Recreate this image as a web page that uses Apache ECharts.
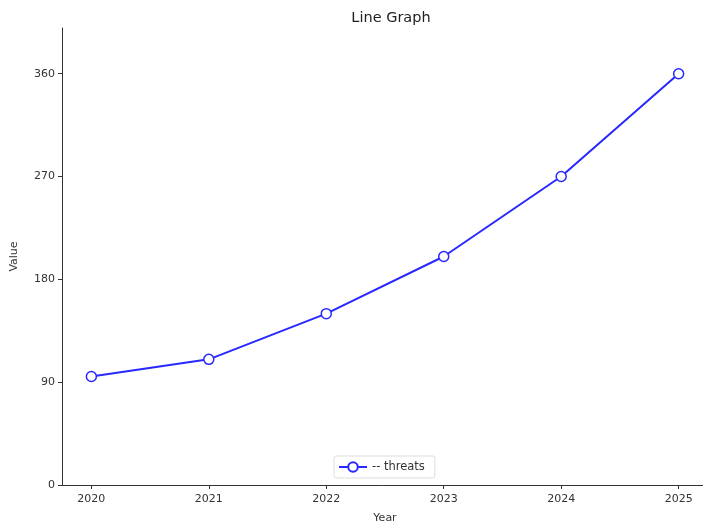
<!DOCTYPE html>
<html><head><meta charset="utf-8">
<script src="https://cdn.jsdelivr.net/npm/echarts@6/dist/echarts.min.js"></script>
<style>html,body{margin:0;padding:0;background:#fff}#c{width:703px;height:523px}</style>
</head><body><div id="c"></div>
<script>
const years = [2020, 2021, 2022, 2023, 2024, 2025];
const threats = [95, 110, 150, 200, 270, 360];
const yTicks = [0, 90, 180, 270, 360];

const chart = echarts.init(document.getElementById('c'), null, {renderer: 'canvas'});
const font = 'DejaVu Sans';
chart.setOption({
  animation: false,
  backgroundColor: '#fff',
  title: {text: 'Line Graph', left: 386, top: 6, textAlign: 'center',
    textStyle: {fontFamily: font, fontSize: 14.5, fontWeight: 'normal', color: '#222'}},
  grid: {left: 62, top: 28, width: 646, height: 457, containLabel: false, outerBoundsMode: 'none'},
  legend: {
    data: ['-- threats'], left: 334, top: 456,
    borderColor: '#ddd', borderWidth: 1, borderRadius: 2, padding: [5, 10, 5, 4],
    itemWidth: 28, itemHeight: 12, itemGap: 6,
    textStyle: {fontFamily: font, fontSize: 11.5, color: '#333'}
  },
  xAxis: {
    type: 'value', min: 2019.75, max: 2025.25,
    name: 'Year', nameLocation: 'middle', nameGap: 28,
    nameTextStyle: {fontFamily: font, fontSize: 11, color: '#333'},
    axisLine: {lineStyle: {color: '#333', width: 1}},
    axisTick: {show: true, length: 4, customValues: years, lineStyle: {color: '#333'}},
    axisLabel: {customValues: years, fontFamily: font, fontSize: 11, color: '#333', margin: 9,
      formatter: v => String(v)},
    splitLine: {show: false}
  },
  yAxis: {
    type: 'value', min: 0, max: 400,
    name: 'Value', nameLocation: 'middle', nameGap: 42, nameRotate: 90,
    nameTextStyle: {fontFamily: font, fontSize: 11, color: '#333'},
    axisLine: {show: true, lineStyle: {color: '#333', width: 1}},
    axisTick: {show: true, length: 4, customValues: yTicks, lineStyle: {color: '#333'}},
    axisLabel: {customValues: yTicks, fontFamily: font, fontSize: 11, color: '#333', margin: 7},
    splitLine: {show: false}
  },
  series: [{
    name: '-- threats', type: 'line',
    data: years.map((y, i) => [y, threats[i]]),
    symbol: 'circle', symbolSize: 10,
    lineStyle: {color: '#2828ff', width: 2},
    itemStyle: {color: '#fff', borderColor: '#2828ff', borderWidth: 1.5}
  }]
});
</script></body></html>
